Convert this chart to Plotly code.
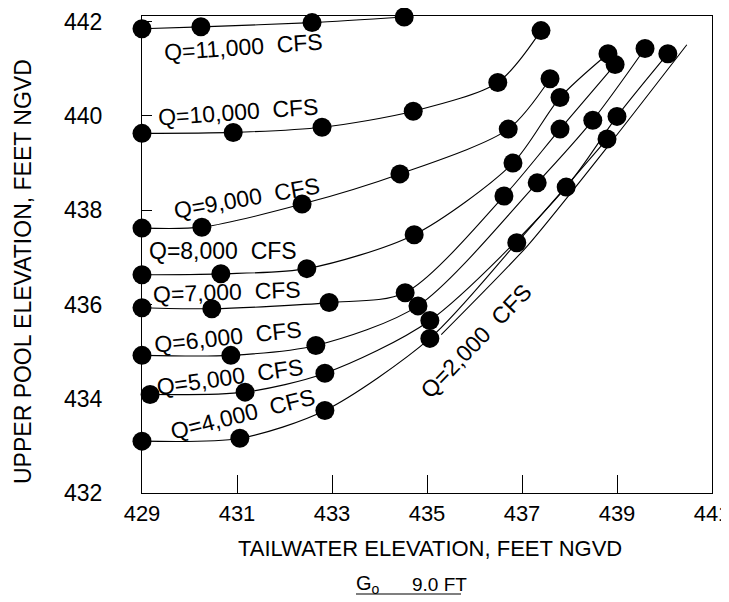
import plotly.graph_objects as go

# Tailwater (x) and upper pool (y) elevations, feet NGVD
q11_tw = [429.00, 430.24, 432.58, 434.52]
q11_up = [441.85, 441.89, 441.98, 442.10]

q10_tw = [429.00, 430.92, 432.79, 434.71, 436.49, 437.40]
q10_up = [439.63, 439.65, 439.76, 440.10, 440.71, 441.81]

q9_tw = [429.00, 430.26, 432.37, 434.43, 436.71, 437.59]
q9_up = [437.62, 437.64, 438.13, 438.77, 439.72, 440.79]

q8_tw = [429.00, 430.66, 432.47, 434.73, 436.81, 437.80, 438.81]
q8_up = [436.63, 436.65, 436.76, 437.48, 439.00, 440.39, 441.32]

q7_tw = [429.00, 430.47, 432.94, 434.54, 436.62, 437.80, 438.96]
q7_up = [435.93, 435.91, 436.04, 436.25, 438.30, 439.72, 441.09]

q6_tw = [429.00, 430.87, 432.66, 434.81, 437.32, 438.49, 439.59]
q6_up = [434.92, 434.92, 435.13, 435.97, 438.58, 439.91, 441.43]

q5_tw = [429.17, 431.17, 432.85, 435.06, 437.93, 439.00, 440.07]
q5_up = [434.09, 434.14, 434.54, 435.66, 438.49, 439.99, 441.32]

q4_tw = [429.00, 431.06, 432.85, 435.06, 436.89, 438.79]
q4_up = [433.10, 433.16, 433.75, 435.28, 437.31, 439.51]

# Q=2,000 CFS curve is drawn without data markers
q2_tw = [435.30, 437.11, 438.89, 440.47]
q2_up = [435.36, 437.24, 439.46, 441.51]

x_ticks = [429, 431, 433, 435, 437, 439, 441]
y_ticks = [432, 434, 436, 438, 440, 442]

curves = [
    (q11_tw, q11_up), (q10_tw, q10_up), (q9_tw, q9_up), (q8_tw, q8_up),
    (q7_tw, q7_up), (q6_tw, q6_up), (q5_tw, q5_up), (q4_tw, q4_up),
]

FONT = "Liberation Sans"
fig = go.Figure()

for tw, up in curves:
    fig.add_trace(go.Scatter(
        x=tw, y=up, mode="lines",
        line=dict(color="black", width=1.1, shape="spline", smoothing=0.8),
        hoverinfo="skip", showlegend=False, cliponaxis=False))

fig.add_trace(go.Scatter(
    x=q2_tw, y=q2_up, mode="lines",
    line=dict(color="black", width=1.1, shape="spline", smoothing=0.6),
    hoverinfo="skip", showlegend=False, cliponaxis=False))

for tw, up in curves:
    fig.add_trace(go.Scatter(
        x=tw, y=up, mode="markers",
        marker=dict(color="black", size=19, line=dict(width=0)),
        showlegend=False, cliponaxis=False))

labels = [
    ("Q=11,000  CFS", 431.13, 441.47, -4),
    ("Q=10,000  CFS", 431.02, 440.08, -4),
    ("Q=9,000  CFS", 431.21, 438.26, -10),
    ("Q=8,000  CFS", 430.71, 437.14, 0),
    ("Q=7,000  CFS", 430.79, 436.27, -2),
    ("Q=6,000  CFS", 430.81, 435.32, -6),
    ("Q=5,000  CFS", 430.85, 434.47, -8),
    ("Q=4,000  CFS", 431.13, 433.67, -14),
    ("Q=2,000  CFS", 436.03, 435.23, -46),
]
for text, x, y, ang in labels:
    fig.add_annotation(x=x, y=y, xref="x", yref="y", text=text, showarrow=False,
                       xanchor="center", yanchor="middle",
                       textangle=ang, font=dict(family=FONT, size=23, color="black"))

# Axis titles and caption (paper coordinates relative to the plotting area)
PW, PH = 570.0, 477.0
def px(x):
    return (x - 142) / PW
def py(y):
    return (493 - y) / PH

fig.add_annotation(x=px(23), y=py(272), xref="paper", yref="paper",
                   text="UPPER POOL ELEVATION, FEET NGVD", showarrow=False, textangle=-90,
                   xanchor="center", yanchor="middle",
                   font=dict(family=FONT, size=23, color="black"))
fig.add_annotation(x=px(430), y=py(548), xref="paper", yref="paper",
                   text="TAILWATER ELEVATION, FEET NGVD", showarrow=False,
                   xanchor="center", yanchor="middle",
                   font=dict(family=FONT, size=22, color="black"))
fig.add_annotation(x=px(368), y=py(584), xref="paper", yref="paper",
                   text="G<sub>o</sub>", showarrow=False,
                   xanchor="center", yanchor="middle",
                   font=dict(family=FONT, size=20, color="black"))
fig.add_annotation(x=px(439), y=py(584), xref="paper", yref="paper",
                   text="9.0 FT", showarrow=False,
                   xanchor="center", yanchor="middle",
                   font=dict(family=FONT, size=19, color="black"))
fig.add_shape(type="line", xref="paper", yref="paper",
              x0=px(356), x1=px(461), y0=py(594), y1=py(594),
              line=dict(color="black", width=1.2))

fig.update_xaxes(range=[429, 441], tickvals=x_ticks, ticks="inside", ticklen=18,
                 tickwidth=1.2, tickcolor="black", showline=True, linecolor="black",
                 linewidth=1.3, mirror=True, showgrid=False, zeroline=False,
                 ticklabelstandoff=0, automargin=False, ticklabeloverflow="allow",
                 tickfont=dict(family=FONT, size=22, color="black"))
fig.update_yaxes(range=[432, 442.12], tickvals=y_ticks, ticks="inside", ticklen=10,
                 tickwidth=1.2, tickcolor="black", showline=True, linecolor="black",
                 linewidth=1.3, mirror=True, showgrid=False, zeroline=False,
                 ticklabelstandoff=34, automargin=False, ticklabeloverflow="allow",
                 tickfont=dict(family=FONT, size=23, color="black"))

# The page adds an 8px body margin, so the figure is 8px smaller and margins shifted.
fig.update_layout(width=721, height=594, margin=dict(l=134, r=17, t=8, b=109),
                  paper_bgcolor="white", plot_bgcolor="white", showlegend=False)

fig.write_html("out.html")
